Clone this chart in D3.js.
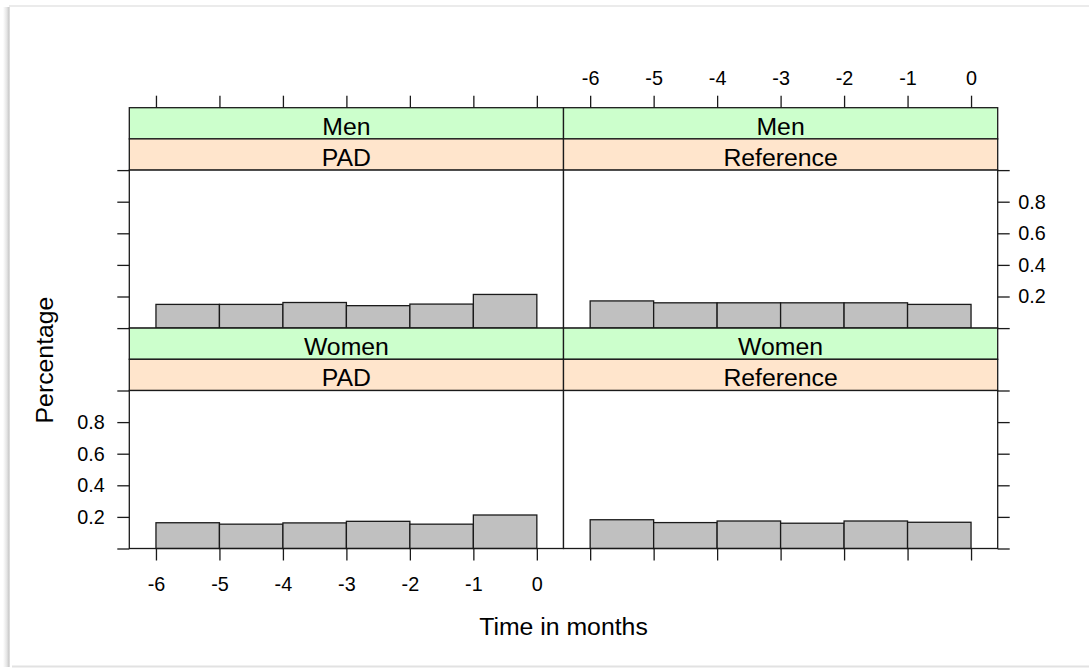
<!DOCTYPE html>
<html>
<head>
<meta charset="utf-8">
<script src="https://cdn.jsdelivr.net/npm/d3@7"></script>
<style>
  html, body { margin: 0; padding: 0; background: #fff; }
  svg { display: block; font-family: "Liberation Sans", Arial, sans-serif; }
  .tick text { fill: #000; }
</style>
</head>
<body>
<svg id="chart" width="1089" height="668"></svg>
<script>
// Histogram of time before event (months), by sex and group
const binStarts = [-6, -5, -4, -3, -2, -1];
const xTicks = [-6, -5, -4, -3, -2, -1, 0];
const xTickLabels = ["-6", "-5", "-4", "-3", "-2", "-1", "0"];
const yTicks = [0, 0.2, 0.4, 0.6, 0.8, 1.0];
const yTickLabels = ["", "0.2", "0.4", "0.6", "0.8", ""];
const sexes = ["Men", "Women"];
const groups = ["PAD", "Reference"];

const menPAD = [0.150, 0.150, 0.162, 0.142, 0.152, 0.213];
const menReference = [0.172, 0.160, 0.160, 0.160, 0.160, 0.150];
const womenPAD = [0.163, 0.154, 0.162, 0.172, 0.154, 0.212];
const womenReference = [0.182, 0.164, 0.174, 0.160, 0.174, 0.166];

const panels = [
  { row: 0, col: 0, sex: sexes[0], group: groups[0], values: menPAD },
  { row: 0, col: 1, sex: sexes[0], group: groups[1], values: menReference },
  { row: 1, col: 0, sex: sexes[1], group: groups[0], values: womenPAD },
  { row: 1, col: 1, sex: sexes[1], group: groups[1], values: womenReference }
];

const svg = d3.select("#chart");

// page frame with a soft shadow on the left edge
const defs = svg.append("defs");
const lg = defs.append("linearGradient").attr("id", "leftShade")
  .attr("x1", "0").attr("x2", "1").attr("y1", "0").attr("y2", "0");
lg.append("stop").attr("offset", "0").attr("stop-color", "#ffffff");
lg.append("stop").attr("offset", "0.55").attr("stop-color", "#e4e4e4");
lg.append("stop").attr("offset", "0.85").attr("stop-color", "#c9c9c9");
lg.append("stop").attr("offset", "1").attr("stop-color", "#ececec");
svg.append("rect").attr("x", 3).attr("y", 7).attr("width", 7).attr("height", 660)
  .attr("fill", "url(#leftShade)");
svg.append("line").attr("x1", 9).attr("x2", 1089).attr("y1", 6).attr("y2", 6)
  .attr("stroke", "#ebebeb").attr("stroke-width", 2);
svg.append("line").attr("x1", 12).attr("x2", 1089).attr("y1", 666.5).attr("y2", 666.5)
  .attr("stroke", "#e2e2e2").attr("stroke-width", 2);

// layout
const gridLeft = 129.3, colW = 434.2;
const gridTop = 107.7, stripH = 31.2, panelH = 158;
const rowH = 2 * stripH + panelH;
const lineCol = "#1a1a1a", lw = 1.3;
const tickFont = "19.8px", stripFont = "24.8px";

const x = d3.scaleLinear().domain([-6.42, 0.42]).range([0, colW]);
const y = d3.scaleLinear().domain([0, 1]).range([panelH, 0]);

function styleAxis(g) {
  g.select(".domain").remove();
  g.selectAll(".tick line").attr("stroke", lineCol).attr("stroke-width", lw);
  g.selectAll(".tick text").attr("font-size", tickFont);
}

panels.forEach(p => {
  const gx = gridLeft + p.col * colW;
  const gy = gridTop + p.row * rowH;
  const g = svg.append("g").attr("transform", `translate(${gx},${gy})`);

  // strips: outer variable (sex) on top, inner (group) next to the panel
  g.append("rect").attr("x", 0).attr("y", 0).attr("width", colW).attr("height", stripH)
    .attr("fill", "#ccffcc").attr("stroke", lineCol).attr("stroke-width", lw);
  g.append("rect").attr("x", 0).attr("y", stripH).attr("width", colW).attr("height", stripH)
    .attr("fill", "#ffe5cc").attr("stroke", lineCol).attr("stroke-width", lw);
  g.append("text").attr("x", colW / 2).attr("y", 27).attr("text-anchor", "middle")
    .attr("font-size", stripFont).attr("fill", "#000").text(p.sex);
  g.append("text").attr("x", colW / 2).attr("y", stripH + 27).attr("text-anchor", "middle")
    .attr("font-size", stripFont).attr("fill", "#000").text(p.group);

  const pg = g.append("g").attr("transform", `translate(0,${2 * stripH})`);
  pg.append("rect").attr("x", 0).attr("y", 0).attr("width", colW).attr("height", panelH)
    .attr("fill", "#fff");

  // histogram bars
  pg.selectAll("rect.bar").data(p.values).join("rect")
    .attr("class", "bar")
    .attr("x", (d, i) => x(binStarts[i]))
    .attr("width", (d, i) => x(binStarts[i] + 1) - x(binStarts[i]))
    .attr("y", d => y(d))
    .attr("height", d => y(0) - y(d))
    .attr("fill", "#c0c0c0").attr("stroke", lineCol).attr("stroke-width", lw);

  pg.append("rect").attr("x", 0).attr("y", 0).attr("width", colW).attr("height", panelH)
    .attr("fill", "none").attr("stroke", lineCol).attr("stroke-width", lw);

  // x axes alternate: labels on top for the right column, bottom for the left column
  if (p.row === 0) {
    const ax = d3.axisTop(x).tickValues(xTicks).tickSize(12).tickPadding(10.5)
      .tickFormat((d, i) => p.col === 1 ? xTickLabels[i] : "");
    g.append("g").call(ax).call(styleAxis);
  } else {
    const ax = d3.axisBottom(x).tickValues(xTicks).tickSize(12).tickPadding(16.5)
      .tickFormat((d, i) => p.col === 0 ? xTickLabels[i] : "");
    pg.append("g").attr("transform", `translate(0,${panelH})`).call(ax).call(styleAxis);
  }

  // y axes alternate: labels on right for the top row, left for the bottom row
  if (p.col === 0) {
    const ay = d3.axisLeft(y).tickValues(yTicks).tickSize(12).tickPadding(12.5)
      .tickFormat((d, i) => p.row === 1 ? yTickLabels[i] : "");
    pg.append("g").call(ay).call(styleAxis);
  } else {
    const ay = d3.axisRight(y).tickValues(yTicks).tickSize(12).tickPadding(8.5)
      .tickFormat((d, i) => p.row === 0 ? yTickLabels[i] : "");
    pg.append("g").attr("transform", `translate(${colW},0)`).call(ay).call(styleAxis);
  }
});

// axis titles
svg.append("text").attr("x", gridLeft + colW).attr("y", 635.2).attr("text-anchor", "middle")
  .attr("font-size", "24.8px").attr("fill", "#000").text("Time in months");
svg.append("text").attr("transform", "translate(53,360) rotate(-90)")
  .attr("text-anchor", "middle").attr("font-size", "24.8px").attr("fill", "#000")
  .text("Percentage");
</script>
</body>
</html>
